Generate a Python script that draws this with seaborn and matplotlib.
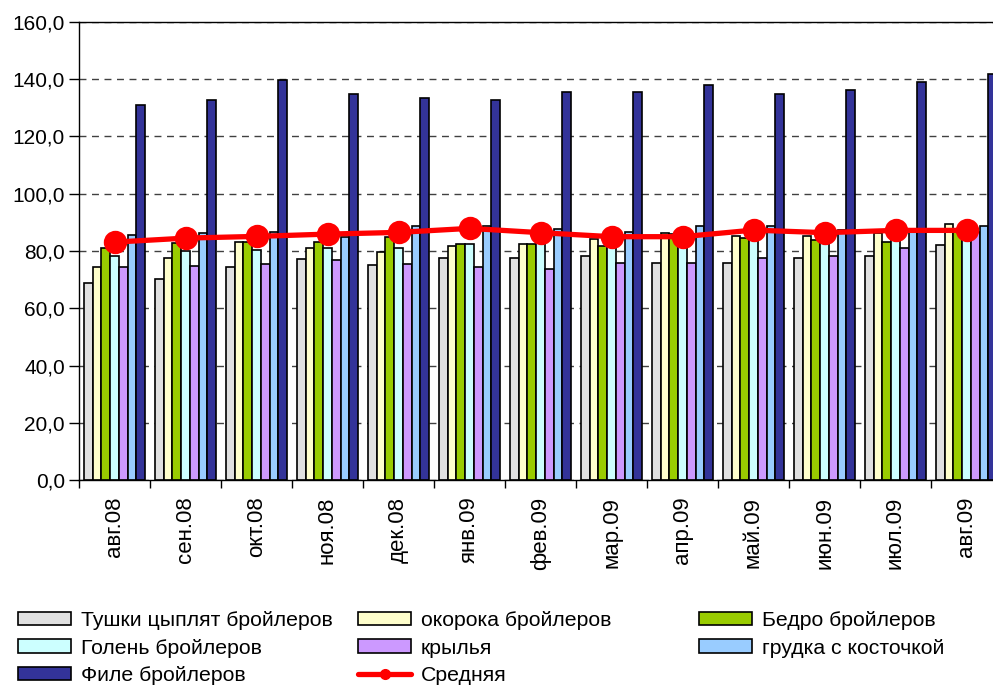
"""Grouped bars of broiler meat prices by month, with the average as a red line."""
import pandas as pd
import seaborn as sns
import matplotlib.pyplot as plt
from matplotlib.patches import Patch
from matplotlib.lines import Line2D
from matplotlib.ticker import FuncFormatter, FixedLocator

# data
months = ["авг.08", "сен.08", "окт.08", "ноя.08", "дек.08", "янв.09", "фев.09",
          "мар.09", "апр.09", "май.09", "июн.09", "июл.09", "авг.09"]
series = ["Тушки цыплят бройлеров", "окорока бройлеров", "Бедро бройлеров",
          "Голень бройлеров", "крылья", "грудка с косточкой", "Филе бройлеров"]
tushki = [68.7, 70.1, 74.3, 77.1, 75.0, 77.7, 77.7, 78.4, 75.7, 75.7, 77.6, 78.3, 82.0]
okoroka = [74.3, 77.6, 83.3, 81.2, 79.8, 81.9, 82.4, 84.1, 86.2, 85.3, 85.3, 86.2, 89.5]
bedro = [81.2, 82.9, 83.3, 83.3, 85.0, 82.4, 82.4, 81.8, 86.0, 84.4, 83.9, 83.3, 87.0]
golen = [78.3, 79.9, 80.5, 81.2, 81.2, 82.4, 84.0, 84.0, 83.0, 86.5, 85.0, 85.5, 86.0]
krylya = [74.3, 74.9, 75.6, 77.0, 75.5, 74.3, 73.6, 75.7, 75.7, 77.7, 78.3, 81.2, 86.8]
grudka = [85.5, 86.2, 86.8, 85.0, 88.9, 88.9, 87.6, 86.8, 88.9, 88.9, 87.5, 86.8, 88.9]
file_ = [130.9, 132.9, 139.7, 135.0, 133.6, 132.9, 135.5, 135.5, 137.9, 135.0, 136.4, 139.2, 141.8]
srednyaya = [83.1, 84.5, 85.1, 85.9, 86.5, 87.9, 86.4, 85.0, 85.0, 87.3, 86.4, 87.2, 87.2]

colors = ["#E0E0E0", "#FFFFCC", "#99CC00", "#CCFFFF", "#CC99FF", "#99CCFF", "#333399"]

# long-form table for seaborn
values = [tushki, okoroka, bedro, golen, krylya, grudka, file_]
rows = []
for name, vals in zip(series, values):
    for m, v in zip(months, vals):
        rows.append({"month": m, "series": name, "value": v})
df = pd.DataFrame(rows)

sns.set_style("white")
plt.rcParams["font.family"] = ["Liberation Sans", "DejaVu Sans"]
plt.rcParams["text.color"] = "black"
plt.rcParams["xtick.color"] = "black"
plt.rcParams["ytick.color"] = "black"

fig = plt.figure(figsize=(9.93, 6.88), dpi=100)
ax = fig.add_axes([79 / 993, 1 - 480 / 688, 923 / 993, 458 / 688])

sns.barplot(data=df, x="month", y="value", hue="series", order=months,
            hue_order=series, palette=colors, saturation=1, width=0.86,
            edgecolor="black", linewidth=1.2, errorbar=None, legend=False, ax=ax)
sns.pointplot(x=months, y=srednyaya, order=months, color="#FF0000", markers="o",
              markersize=14, linewidth=3.8, errorbar=None, ax=ax)

ax.set_ylim(0, 160)
ax.set_xlim(-0.5, 12.5)
ax.set_yticks(range(0, 161, 20))
ax.yaxis.set_major_formatter(FuncFormatter(lambda v, p: f"{v:.1f}".replace(".", ",")))
ax.yaxis.grid(True, linestyle=(0, (5, 4)), color="#404040", linewidth=1)
ax.set_axisbelow(True)
ax.set_xlabel("")
ax.set_ylabel("")

ax.tick_params(axis="y", which="major", direction="out", length=7, width=1,
               labelsize=15, pad=3, left=True)
ax.tick_params(axis="x", which="major", length=0, labelsize=16, pad=12,
               labelrotation=90)
ax.xaxis.set_minor_locator(FixedLocator([i - 0.5 for i in range(14)]))
ax.tick_params(axis="x", which="minor", direction="out", length=6, width=1,
               bottom=True)

for side in ["left", "top", "bottom"]:
    ax.spines[side].set_color("black")
    ax.spines[side].set_linewidth(1)
ax.spines["right"].set_visible(False)

# legend in three equal columns, like the original
handles = [Patch(facecolor=c, edgecolor="black", linewidth=1.2) for c in colors]
line_handle = Line2D([], [], color="#FF0000", linewidth=3.8, marker="o", markersize=7)
cols = [
    ([handles[0], handles[3], handles[6]], [series[0], series[3], series[6]], 18),
    ([handles[1], handles[4], line_handle], [series[1], series[4], "Средняя"], 358),
    ([handles[2], handles[5]], [series[2], series[5]], 699),
]
for h, lab, x in cols:
    fig.legend(h, lab, loc="upper left", bbox_to_anchor=(x / 993, 1 - 611 / 688),
               frameon=False, fontsize=15.3, handlelength=2.5, handleheight=0.6,
               handletextpad=0.45, labelspacing=0.4, borderpad=0, borderaxespad=0)

plt.savefig("out.png", dpi=100)
